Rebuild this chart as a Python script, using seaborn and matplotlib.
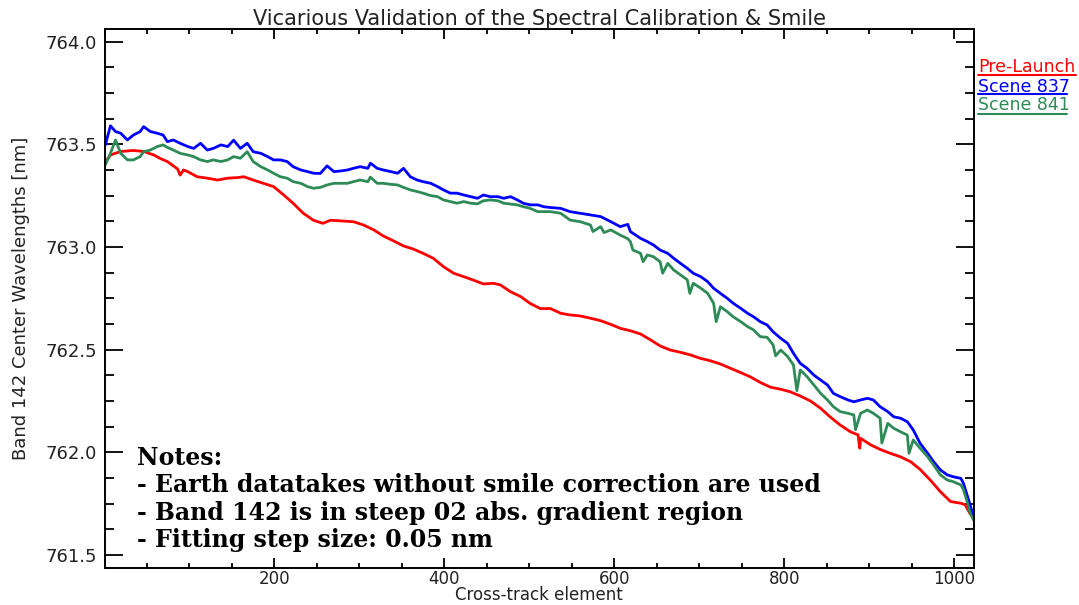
import matplotlib
matplotlib.use("Agg")
import numpy as np
import pandas as pd
import matplotlib.pyplot as plt
import seaborn as sns
from matplotlib.lines import Line2D
from matplotlib.ticker import FixedLocator, MultipleLocator, FormatStrFormatter

# ---------------- data ----------------
series_names = ["Pre-Launch", "Scene 837", "Scene 841"]
series_colors = ["#ff0000", "#0000ff", "#2e8b57"]

elem_prelaunch = [0, 4, 7, 19, 34, 46, 58, 66, 74, 86, 89, 93, 98, 109, 121, 133, 145, 157, 164,
                  175, 187, 199, 211, 222, 234, 246, 257, 266, 278, 293, 305, 317, 328, 340, 352,
                  364, 375, 387, 399, 411, 423, 434, 446, 458, 466, 478, 490, 501, 513, 525, 537,
                  548, 560, 572, 584, 596, 607, 619, 631, 643, 654, 666, 678, 690, 701, 713, 725,
                  737, 749, 760, 772, 784, 796, 807, 819, 831, 843, 854, 866, 878, 887, 889, 890,
                  902, 913, 925, 937, 949, 960, 972, 984, 996, 1008, 1013, 1019, 1023]
pre_launch = [763.416, 763.430, 763.448, 763.465, 763.470, 763.465, 763.448, 763.430, 763.416,
              763.380, 763.350, 763.375, 763.367, 763.342, 763.335, 763.326, 763.335, 763.338,
              763.342, 763.326, 763.310, 763.294, 763.253, 763.213, 763.164, 763.130, 763.115,
              763.130, 763.127, 763.123, 763.107, 763.083, 763.054, 763.030, 763.005, 762.989,
              762.969, 762.945, 762.904, 762.872, 762.855, 762.839, 762.820, 762.823, 762.815,
              762.782, 762.758, 762.725, 762.700, 762.700, 762.677, 762.669, 762.664, 762.653,
              762.641, 762.623, 762.604, 762.592, 762.576, 762.547, 762.518, 762.498, 762.487,
              762.474, 762.458, 762.446, 762.430, 762.409, 762.388, 762.368, 762.340, 762.317,
              762.307, 762.295, 762.274, 762.250, 762.214, 762.173, 762.133, 762.100, 762.085,
              762.020, 762.068, 762.036, 762.014, 761.995, 761.978, 761.954, 761.917, 761.865,
              761.808, 761.760, 761.752, 761.745, 761.700, 761.690]

elem_scene = [1, 7, 13, 19, 27, 34, 42, 46, 54, 62,
              69, 74, 81, 89, 98, 105, 113, 121, 128, 137,
              145, 152, 160, 168, 175, 184, 192, 199, 207, 215,
              222, 231, 239, 246, 254, 262, 270, 278, 286, 293,
              301, 310, 313, 321, 328, 337, 345, 352, 360, 368,
              375, 384, 392, 399, 407, 415, 423, 431, 439, 446,
              454, 463, 470, 478, 486, 493, 501, 510, 517, 525,
              537, 548, 560, 572, 584, 596, 607, 616, 619, 631,
              639, 646, 654, 663, 670, 678, 686, 693, 702, 710,
              717, 725, 733, 740, 749, 757, 764, 772, 780, 787,
              796, 804, 811, 819, 827, 835, 843, 851, 858, 866,
              875, 882, 890, 898, 905, 913, 922, 929, 937, 945,
              952, 960, 969, 976, 984, 992, 999, 1008, 1011, 1016,
              1019, 1023]
scene_837 = [763.497, 763.590, 763.562, 763.554, 763.521, 763.545, 763.562, 763.586, 763.562, 763.554,
             763.545, 763.513, 763.521, 763.505, 763.489, 763.480, 763.505, 763.472, 763.480, 763.497,
             763.489, 763.520, 763.480, 763.505, 763.464, 763.456, 763.440, 763.424, 763.424, 763.416,
             763.391, 763.375, 763.367, 763.359, 763.358, 763.395, 763.367, 763.370, 763.375, 763.383,
             763.391, 763.383, 763.408, 763.383, 763.375, 763.367, 763.359, 763.383, 763.342, 763.326,
             763.318, 763.310, 763.294, 763.278, 763.262, 763.262, 763.253, 763.245, 763.237, 763.253,
             763.245, 763.245, 763.237, 763.245, 763.229, 763.213, 763.205, 763.205, 763.196, 763.192,
             763.188, 763.172, 763.164, 763.156, 763.148, 763.123, 763.099, 763.110, 763.075, 763.042,
             763.026, 763.010, 762.985, 762.969, 762.945, 762.920, 762.896, 762.872, 762.855, 762.831,
             762.799, 762.774, 762.750, 762.726, 762.701, 762.677, 762.660, 762.636, 762.620, 762.587,
             762.555, 762.531, 762.482, 762.433, 762.409, 762.376, 762.352, 762.328, 762.287, 762.271,
             762.255, 762.246, 762.255, 762.263, 762.255, 762.222, 762.198, 762.173, 762.166, 762.149,
             762.109, 762.044, 761.995, 761.954, 761.914, 761.890, 761.881, 761.873, 761.850, 761.784,
             761.743, 761.686]
scene_841 = [763.400, 763.456, 763.521, 763.456, 763.424, 763.424, 763.440, 763.464, 763.472, 763.489,
             763.497, 763.485, 763.472, 763.456, 763.448, 763.440, 763.424, 763.416, 763.424, 763.416,
             763.424, 763.440, 763.432, 763.464, 763.416, 763.391, 763.375, 763.359, 763.342, 763.335,
             763.318, 763.310, 763.294, 763.286, 763.290, 763.302, 763.310, 763.310, 763.310, 763.318,
             763.326, 763.318, 763.340, 763.310, 763.310, 763.305, 763.302, 763.290, 763.278, 763.270,
             763.262, 763.250, 763.245, 763.229, 763.221, 763.213, 763.221, 763.213, 763.210, 763.225,
             763.229, 763.225, 763.213, 763.209, 763.205, 763.196, 763.188, 763.172, 763.172, 763.172,
             763.164, 763.131, 763.123, 763.107, 763.099, 763.083, 763.058, 763.040, 763.026, 762.969,
             762.961, 762.953, 762.928, 762.920, 762.888, 762.864, 762.840, 762.823, 762.799, 762.774,
             762.726, 762.709, 762.685, 762.660, 762.636, 762.612, 762.596, 762.563, 762.560, 762.523,
             762.498, 762.467, 762.425, 762.401, 762.368, 762.328, 762.287, 762.255, 762.222, 762.198,
             762.190, 762.182, 762.190, 762.206, 762.190, 762.166, 762.141, 762.117, 762.100, 762.084,
             762.060, 762.020, 761.978, 761.938, 761.890, 761.865, 761.857, 761.841, 761.820, 761.751,
             761.703, 761.670]
# isolated downward spikes visible in Scene 841
spike_elem_841 = [575, 588, 622, 634, 657, 689, 720, 790, 815, 884, 915, 947]
spike_val_841 = [763.075, 763.070, 762.985, 762.928, 762.872, 762.774, 762.636, 762.470,
                 762.300, 762.110, 762.045, 761.995]

x_ticks = [200, 400, 600, 800, 1000]

# ---------------- build long-form table ----------------
frames = [
    pd.DataFrame({"element": elem_prelaunch, "wavelength": pre_launch, "series": series_names[0]}),
    pd.DataFrame({"element": elem_scene, "wavelength": scene_837, "series": series_names[1]}),
    pd.DataFrame({"element": list(elem_scene) + spike_elem_841,
                  "wavelength": list(scene_841) + spike_val_841,
                  "series": series_names[2]}).sort_values("element"),
]
df = pd.concat(frames, ignore_index=True)

# ---------------- plotting ----------------
sns.set_style("ticks")
plt.rcParams["font.family"] = ["DejaVu Sans"]

W, H = 1079, 605
AX_L, AX_R, AX_T, AX_B = 104.5, 974.0, 29.3, 567.5
fig = plt.figure(figsize=(W / 100, H / 100), dpi=100)
ax = fig.add_axes([AX_L / W, 1 - AX_B / H, (AX_R - AX_L) / W, (AX_B - AX_T) / H])

sns.lineplot(data=df, x="element", y="wavelength", hue="series", hue_order=series_names,
             palette=dict(zip(series_names, series_colors)), estimator=None, sort=False,
             linewidth=2.0, legend=False, ax=ax)

ax.set_xlim(0, 1023.5)
ax.set_ylim(761.439, 764.060)

ax.xaxis.set_major_locator(FixedLocator(x_ticks))
ax.xaxis.set_minor_locator(MultipleLocator(50))
ax.yaxis.set_major_locator(MultipleLocator(0.5))
ax.yaxis.set_minor_locator(MultipleLocator(0.125))
ax.yaxis.set_major_formatter(FormatStrFormatter("%.1f"))

ax.tick_params(axis="both", which="both", direction="in", top=True, right=True,
               color="black", width=1.3, labelcolor="#222222")
ax.tick_params(axis="y", which="major", length=13, pad=5.4, labelsize=13)
ax.tick_params(axis="y", which="minor", length=6.5)
ax.tick_params(axis="x", which="major", length=7.2, pad=1.8, labelsize=12)
ax.tick_params(axis="x", which="minor", length=3.6)
for s in ax.spines.values():
    s.set_linewidth(1.4)
    s.set_color("black")

ax.set_xlabel("Cross-track element", fontsize=12, color="#222222")
ax.xaxis.label.set_va("baseline")
ax.xaxis.set_label_coords(0.5, (AX_B - 600) / (AX_B - AX_T))
ax.set_ylabel("Band 142 Center Wavelengths [nm]", fontsize=13, labelpad=11, color="#222222")
ax.set_title("Vicarious Validation of the Spectral Calibration & Smile", fontsize=15,
             pad=1, color="#222222")

# legend: coloured labels with underline samples, outside on the right
leg_x0 = 978 / W
leg_items = [("Pre-Launch", series_colors[0], 72.5, 74.5, 1076),
             ("Scene 837", series_colors[1], 91.5, 94.5, 1067),
             ("Scene 841", series_colors[2], 110.5, 113.5, 1067)]
for label, col, base_y, line_y, x_end in leg_items:
    fig.text(leg_x0, 1 - base_y / H, label, color=col, fontsize=12.5, ha="left", va="baseline")
    fig.add_artist(Line2D([leg_x0, x_end / W], [1 - line_y / H] * 2,
                          transform=fig.transFigure, color=col, linewidth=1.5))

# notes block
notes = ["Notes:",
         "- Earth datatakes without smile correction are used",
         "- Band 142 is in steep 02 abs. gradient region",
         "- Fitting step size: 0.05 nm"]
for i, line in enumerate(notes):
    fig.text(137 / W, 1 - (465 + 27.3 * i) / H, line, family="DejaVu Serif", weight="bold",
             fontsize=17, color="black", ha="left", va="baseline")

fig.savefig("out.png", dpi=100)
